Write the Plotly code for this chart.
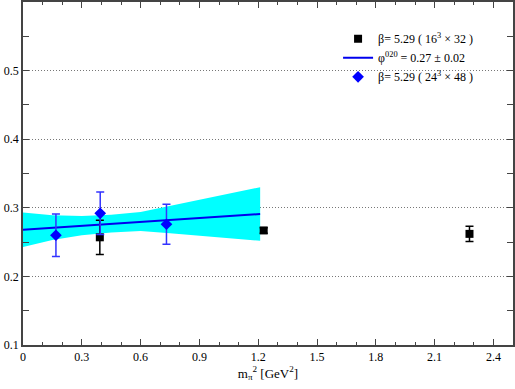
import plotly.graph_objects as go

# data
x_16 = [0.392, 1.228, 2.278]
y_16 = [0.257, 0.267, 0.262]
e_16 = [0.025, 0.004, 0.011]

x_24 = [0.168, 0.394, 0.732]
y_24 = [0.260, 0.292, 0.276]
e_24 = [0.031, 0.031, 0.029]

fit_x = [0.0, 1.21]
fit_y = [0.268, 0.291]

band_x = [0.0, 0.15, 0.3, 0.45, 0.6, 0.75, 0.9, 1.05, 1.21]
band_hi = [0.293, 0.289, 0.288, 0.290, 0.294, 0.303, 0.312, 0.321, 0.330]
band_lo = [0.243, 0.253, 0.260, 0.264, 0.266, 0.263, 0.259, 0.256, 0.252]

font = "Liberation Serif, DejaVu Serif, serif"

fig = go.Figure()

fig.add_trace(go.Scatter(x=band_x + band_x[::-1], y=band_hi + band_lo[::-1],
                         fill="toself", fillcolor="#00ffff", line=dict(width=0),
                         mode="lines", showlegend=False, hoverinfo="skip"))

fig.add_trace(go.Scatter(x=x_16, y=y_16, mode="markers", name="β= 5.29 ( 16<sup>3</sup> × 32 )",
                         marker=dict(symbol="square", size=8, color="black"),
                         error_y=dict(type="data", array=e_16, color="black", thickness=1.5, width=4)))

fig.add_trace(go.Scatter(x=fit_x, y=fit_y, mode="lines", name="φ<sup>020</sup> = 0.27 ± 0.02",
                         line=dict(color="#0000ee", width=2)))

fig.add_trace(go.Scatter(x=x_24, y=y_24, mode="markers", name="β= 5.29 ( 24<sup>3</sup> × 48 )",
                         marker=dict(symbol="diamond", size=9, color="#0000ff"),
                         error_y=dict(type="data", array=e_24, color="#3333ff", thickness=1.5, width=4)))

axis_style = dict(showline=True, linecolor="#444", linewidth=1.5, mirror="ticks",
                  ticks="inside", ticklen=6, tickcolor="#444", zeroline=False, automargin=False,
                  tickfont=dict(family=font, size=12, color="black"))

fig.update_xaxes(range=[0, 2.5], tickvals=[0, 0.3, 0.6, 0.9, 1.2, 1.5, 1.8, 2.1, 2.4],
                 ticktext=["0", "0.3", "0.6", "0.9", "1.2", "1.5", "1.8", "2.1", "2.4"],
                 showgrid=False,
                 minor=dict(dtick=0.1, tick0=0, ticks="inside", ticklen=3, tickcolor="#444", showgrid=False),
                 title=dict(text="m<sub>π</sub><sup>2</sup> [GeV<sup>2</sup>]", standoff=2,
                            font=dict(family=font, size=13, color="black")),
                 **axis_style)
fig.update_yaxes(range=[0.1, 0.6], tickvals=[0.1, 0.2, 0.3, 0.4, 0.5],
                 showgrid=True, gridcolor="#777", griddash="1px,2px", gridwidth=1,
                 minor=dict(dtick=0.05, tick0=0.1, ticks="inside", ticklen=6, tickcolor="#444", showgrid=False),
                 **axis_style)

fig.update_layout(width=515, height=389, margin=dict(l=23, r=2, t=2, b=44),
                  paper_bgcolor="white", plot_bgcolor="white",
                  font=dict(family=font, size=11, color="black"),
                  legend=dict(x=0.643, y=0.935, xanchor="left", yanchor="top",
                              bgcolor="rgba(0,0,0,0)", tracegroupgap=0,
                              font=dict(family=font, size=12)))

# page body has a default 8px margin; drop it so the figure fills the window
fig.write_html("out.html", config={"displayModeBar": False},
               post_script="document.body.style.margin='0';")
